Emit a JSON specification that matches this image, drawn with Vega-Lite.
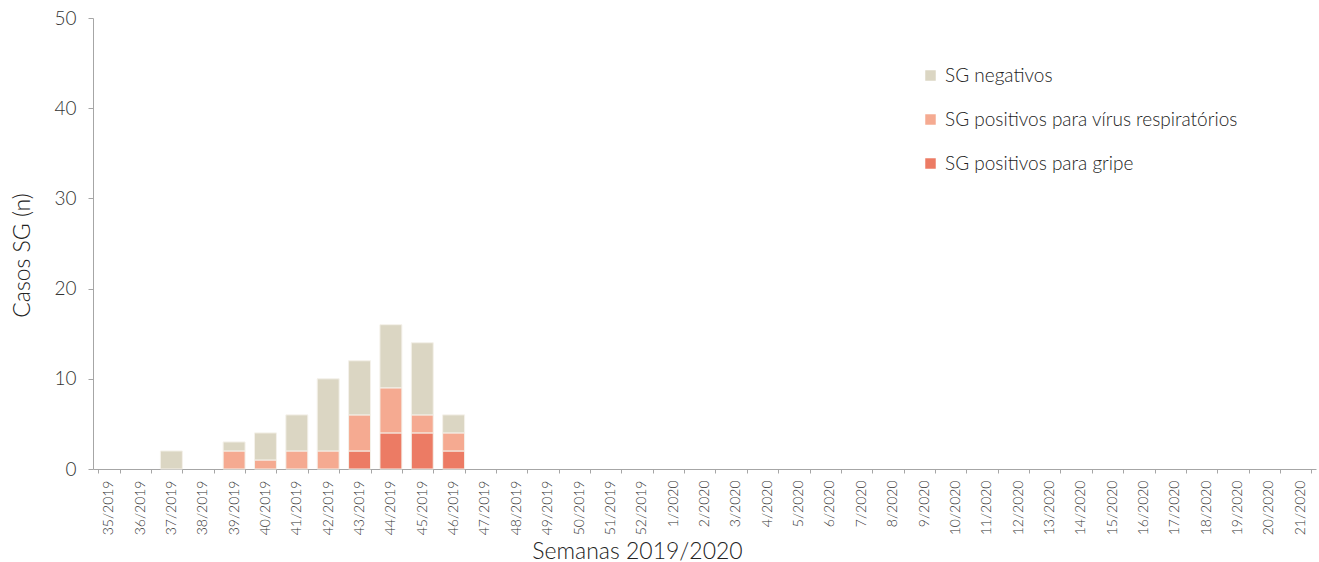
{
  "$schema": "https://vega.github.io/schema/vega-lite/v6.json",
  "width": 1223,
  "height": 451,
  "autosize": {"type": "none"},
  "padding": {"left": 93, "top": 18, "right": 3, "bottom": 93},
  "background": "white",
  "config": {
    "font": "Lato",
    "view": {"stroke": null},
    "axis": {"grid": false, "labelFontWeight": 300, "titleFontWeight": 300},
    "legend": {"labelFontWeight": 300}
  },
  "data": {
    "values": [
      {"semana": "37/2019", "tipo": "SG negativos", "ord": 3, "n": 2},
      {"semana": "39/2019", "tipo": "SG positivos para vírus respiratórios", "ord": 2, "n": 2},
      {"semana": "39/2019", "tipo": "SG negativos", "ord": 3, "n": 1},
      {"semana": "40/2019", "tipo": "SG positivos para vírus respiratórios", "ord": 2, "n": 1},
      {"semana": "40/2019", "tipo": "SG negativos", "ord": 3, "n": 3},
      {"semana": "41/2019", "tipo": "SG positivos para vírus respiratórios", "ord": 2, "n": 2},
      {"semana": "41/2019", "tipo": "SG negativos", "ord": 3, "n": 4},
      {"semana": "42/2019", "tipo": "SG positivos para vírus respiratórios", "ord": 2, "n": 2},
      {"semana": "42/2019", "tipo": "SG negativos", "ord": 3, "n": 8},
      {"semana": "43/2019", "tipo": "SG positivos para gripe", "ord": 1, "n": 2},
      {"semana": "43/2019", "tipo": "SG positivos para vírus respiratórios", "ord": 2, "n": 4},
      {"semana": "43/2019", "tipo": "SG negativos", "ord": 3, "n": 6},
      {"semana": "44/2019", "tipo": "SG positivos para gripe", "ord": 1, "n": 4},
      {"semana": "44/2019", "tipo": "SG positivos para vírus respiratórios", "ord": 2, "n": 5},
      {"semana": "44/2019", "tipo": "SG negativos", "ord": 3, "n": 7},
      {"semana": "45/2019", "tipo": "SG positivos para gripe", "ord": 1, "n": 4},
      {"semana": "45/2019", "tipo": "SG positivos para vírus respiratórios", "ord": 2, "n": 2},
      {"semana": "45/2019", "tipo": "SG negativos", "ord": 3, "n": 8},
      {"semana": "46/2019", "tipo": "SG positivos para gripe", "ord": 1, "n": 2},
      {"semana": "46/2019", "tipo": "SG positivos para vírus respiratórios", "ord": 2, "n": 2},
      {"semana": "46/2019", "tipo": "SG negativos", "ord": 3, "n": 2}
    ]
  },
  "mark": {"type": "bar", "stroke": "#f4f1ea", "strokeWidth": 1},
  "encoding": {
    "x": {
      "field": "semana",
      "type": "nominal",
      "scale": {
        "domain": ["35/2019","36/2019","37/2019","38/2019","39/2019","40/2019","41/2019","42/2019","43/2019","44/2019","45/2019","46/2019","47/2019","48/2019","49/2019","50/2019","51/2019","52/2019","1/2020","2/2020","3/2020","4/2020","5/2020","6/2020","7/2020","8/2020","9/2020","10/2020","11/2020","12/2020","13/2020","14/2020","15/2020","16/2020","17/2020","18/2020","19/2020","20/2020","21/2020"],
        "paddingInner": 0.3,
        "paddingOuter": 0.15
      },
      "axis": {
        "title": "Semanas 2019/2020",
        "titleFontSize": 23,
        "titleColor": "#222222",
        "titleX": 544,
        "titleY": 89,
        "titleBaseline": "alphabetic",
        "labelAngle": -90,
        "labelFontSize": 14,
        "labelColor": "#333333",
        "labelPadding": 7,
        "tickBand": "extent",
        "tickSize": 4,
        "tickColor": "#a6a6a6",
        "domainColor": "#a6a6a6"
      }
    },
    "y": {
      "field": "n",
      "type": "quantitative",
      "aggregate": "sum",
      "stack": "zero",
      "scale": {"domain": [0, 50]},
      "axis": {
        "title": "Casos SG (n)",
        "titleFontSize": 23,
        "titleColor": "#222222",
        "titleX": -71,
        "titleY": 237,
        "titleAngle": -90,
        "titleBaseline": "middle",
        "titleAlign": "center",
        "values": [0, 10, 20, 30, 40, 50],
        "labelFontSize": 19,
        "labelColor": "#333333",
        "labelPadding": 12,
        "tickSize": 5,
        "tickColor": "#a6a6a6",
        "domainColor": "#a6a6a6"
      }
    },
    "color": {
      "field": "tipo",
      "type": "nominal",
      "scale": {
        "domain": ["SG negativos", "SG positivos para vírus respiratórios", "SG positivos para gripe"],
        "range": ["#dbd6c3", "#f5aa91", "#ec7b64"]
      },
      "legend": {
        "title": null,
        "orient": "none",
        "legendX": 828,
        "legendY": 48,
        "symbolType": "square",
        "symbolSize": 110,
        "symbolStrokeWidth": 0,
        "labelFontSize": 19,
        "labelLimit": 500,
        "labelColor": "#222222",
        "labelOffset": 5,
        "rowPadding": 24
      }
    },
    "order": {"field": "ord", "type": "quantitative"}
  }
}
